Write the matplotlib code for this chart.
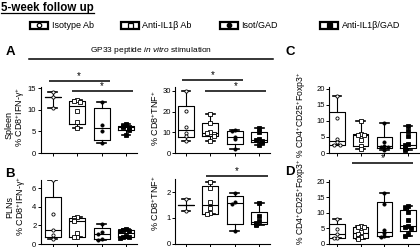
import matplotlib.pyplot as plt
import numpy as np
from matplotlib.patches import Rectangle

plt.rcParams['font.family'] = ['Liberation Sans', 'DejaVu Sans']
plt.rcParams['mathtext.fontset'] = 'custom'
plt.rcParams['mathtext.rm'] = 'Liberation Sans'
plt.rcParams['mathtext.it'] = 'Liberation Sans:italic'
plt.rcParams['mathtext.bf'] = 'Liberation Sans:bold'

GROUPS = ["Isotype Ab", "Anti-IL1\u03b2 Ab", "Isot/GAD", "Anti-IL1\u03b2/GAD"]
MARKERS = ["o", "s", "o", "s"]
FILLED = [False, False, True, True]

# spleen, GP33 restimulation
spleen_ifn = [[14.1, 12.9, 10.4],
              [12.3, 12.0, 11.8, 9.8, 7.1, 5.8],
              [11.7, 6.5, 5.0, 2.3],
              [6.7, 6.3, 6.1, 5.9, 5.7, 5.4, 4.2]]
spleen_tnf = [[29.7, 20.1, 12.6, 9.6, 8.3, 5.6],
              [19.0, 14.3, 10.0, 9.5, 9.2, 8.4, 5.9],
              [11.1, 10.5, 7.9, 6.6, 2.0],
              [12.2, 10.3, 6.8, 6.3, 5.8, 5.2, 4.0]]
spleen_treg = [[17.7, 11.0, 4.5, 3.3, 2.6, 2.6],
               [10.1, 5.9, 5.7, 5.6, 4.0, 2.1, 1.3],
               [9.4, 3.4, 2.3, 1.8, 1.8, 1.0],
               [8.3, 7.0, 5.2, 2.8, 2.4, 1.8, 1.5, 1.0]]
# pancreatic lymph nodes
pln_ifn = [[6.86, 3.28, 1.5, 0.94, 0.5],
           [2.93, 2.75, 2.6, 2.5, 1.2, 0.79, 0.72],
           [2.2, 1.3, 1.07, 0.57, 0.43],
           [1.57, 1.52, 1.45, 1.38, 0.9, 0.79, 0.71, 0.7]]
pln_tnf = [[1.72, 1.25],
           [2.41, 2.18, 1.62, 1.37, 1.18, 1.13],
           [1.95, 1.6, 1.55, 0.48],
           [1.59, 1.08, 0.88, 0.8, 0.76, 0.71]]
pln_treg = [[8.0, 4.8, 3.0, 1.8, 1.8],
            [5.5, 5.47, 5.2, 3.7, 3.1, 2.1, 1.7, 1.3],
            [16.2, 12.6, 4.3, 3.3, 2.47, 2.2],
            [12.1, 11.4, 10.2, 7.5, 5.7, 5.4, 5.0, 3.0, 2.4]]

W, H = 420, 247
fig = plt.figure(figsize=(W / 100, H / 100), dpi=100)


def px_axes(left, top, right, bottom):
    return fig.add_axes([left / W, 1 - bottom / H,
                         (right - left) / W, (bottom - top) / H])


def box_stats(vals):
    v = np.asarray(vals, float)
    q1, med, q3 = np.percentile(v, [25, 50, 75], method="weibull")
    if len(v) < 4:
        q1 = q3 = med
    return dict(med=med, q1=q1, q3=q3, whislo=v.min(), whishi=v.max(), fliers=[])


def spread(vals, tol):
    # nudge overlapping points sideways, like Prism does
    pattern = [0, -0.13, 0.13, -0.26, 0.26, -0.065, 0.065]
    offs, placed = [], []
    for v in vals:
        k = sum(abs(v - p) < tol for p in placed)
        offs.append(pattern[k % len(pattern)])
        placed.append(v)
    return np.array(offs)


def panel(box, data, ylim, yticks, xlim=(0.5, 4.45)):
    ax = px_axes(*box)
    ax.bxp([box_stats(d) for d in data], positions=range(1, 5), widths=0.65,
           capwidths=0.36, showfliers=False,
           boxprops=dict(color="black", lw=0.8),
           medianprops=dict(color="black", lw=0.8),
           whiskerprops=dict(color="black", lw=0.8),
           capprops=dict(color="black", lw=1.2))
    for i, d in enumerate(data):
        ax.plot(i + 1 + spread(d, ylim[1] * 0.035), d, ls="none",
                marker=MARKERS[i], ms=2.3, mew=0.6, mec="black",
                mfc="black" if FILLED[i] else "white", zorder=3)
    ax.set_xlim(*xlim)
    ax.set_ylim(*ylim)
    ax.set_yticks(yticks)
    ax.set_xticks(range(1, 5))
    ax.set_xticklabels([])
    for s in ["top", "right"]:
        ax.spines[s].set_visible(False)
    for s in ["left", "bottom"]:
        ax.spines[s].set_linewidth(0.8)
    ax.tick_params(length=2, width=0.7, labelsize=5.5, pad=1)
    ax.patch.set_alpha(0)
    return ax


def sig_bar(ax, x0, x1, y):
    ax.plot([x0, x1], [y, y], color="black", lw=1.1, clip_on=False,
            solid_capstyle="butt")
    ax.text((x0 + x1) / 2, y, "*", ha="center", va="bottom", fontsize=7,
            clip_on=False)


ax_a1 = panel((40.5, 86.7, 137, 153), spleen_ifn, (0, 15.3), [0, 5, 10, 15])
sig_bar(ax_a1, 0.84, 3.33, 16.6)
sig_bar(ax_a1, 1.78, 4.27, 14.3)

ax_a2 = panel((174.7, 86.7, 270, 153), spleen_tnf, (0, 32), [0, 10, 20, 30],
              xlim=(0.54, 4.44))
sig_bar(ax_a2, 0.82, 3.35, 35.3)
sig_bar(ax_a2, 1.78, 4.28, 30.1)

panel((329, 86.7, 420, 153), spleen_treg, (0, 20.7), [0, 5, 10, 15, 20],
      xlim=(0.66, 4.5))

panel((40.5, 180, 137, 244), pln_ifn, (0, 6.9), [0, 2, 4, 6])

ax_b2 = panel((174.7, 179.3, 270, 243.5), pln_tnf, (0, 2.5), [0, 1, 2],
              xlim=(0.54, 4.44))
sig_bar(ax_b2, 1.82, 4.35, 2.64)

ax_d = panel((329, 180, 420, 243.5), pln_treg, (0, 20.5), [0, 5, 10, 15, 20],
             xlim=(0.66, 4.5))
sig_bar(ax_d, 1.64, 4.22, 26)

# overlay in pixel coordinates for titles, labels and legend
ov = fig.add_axes([0, 0, 1, 1])
ov.set_xlim(0, W)
ov.set_ylim(H, 0)
ov.axis("off")

title = ov.text(1, 7.5, "5-week follow up", fontsize=8.3, weight="bold",
                va="center", ha="left")
fig.canvas.draw()
bb = title.get_window_extent().transformed(ov.transData.inverted())
ov.plot([bb.x0, bb.x1], [13.3, 13.3], color="black", lw=0.9)

leg_box_x = [30, 121, 220, 320]
for i, name in enumerate(GROUPS):
    x = leg_box_x[i]
    ov.add_patch(Rectangle((x, 22), 18, 7, fill=False, lw=1.6, ec="black"))
    ov.plot(x + 9, 25.5, marker=MARKERS[i], ms=3.6 if MARKERS[i] == "s" else 3.2,
            mew=0.9, mec="black", mfc="black" if FILLED[i] else "white")
    ov.text(x + 21.5, 25.5, name, fontsize=6.5, va="center", ha="left")

for lab, (x, y) in zip("ACBD", [(10, 52), (290, 52), (10, 174), (290, 172)]):
    ov.text(x, y, lab, fontsize=9.5, weight="bold", ha="center", va="center")

ov.plot([29, 273], [59, 59], color="black", lw=1.1)
ov.text(151, 56, r"GP33 peptide $\mathit{in\ vitro}$ stimulation", fontsize=6,
        ha="center", va="bottom")

ifn_lab = "% CD8$^{+}$IFN-\u03b3$^{+}$"
tnf_lab = "% CD8$^{+}$TNF$^{+}$"
treg_lab = "% CD4$^{+}$CD25$^{+}$Foxp3$^{+}$"
for txt, x, y, fs in [("Spleen", 9.5, 125, 6.5), (ifn_lab, 20.5, 117, 6.5),
                      ("PLNs", 10, 207, 6.5), (ifn_lab, 21, 206, 6.5),
                      (tnf_lab, 155, 118, 6.5), (tnf_lab, 155, 203, 6.5),
                      (treg_lab, 301, 115, 6.2), (treg_lab, 301, 202, 6.2)]:
    ov.text(x, y, txt, rotation=90, fontsize=fs, ha="center", va="center")

fig.savefig("out.png", dpi=100)
